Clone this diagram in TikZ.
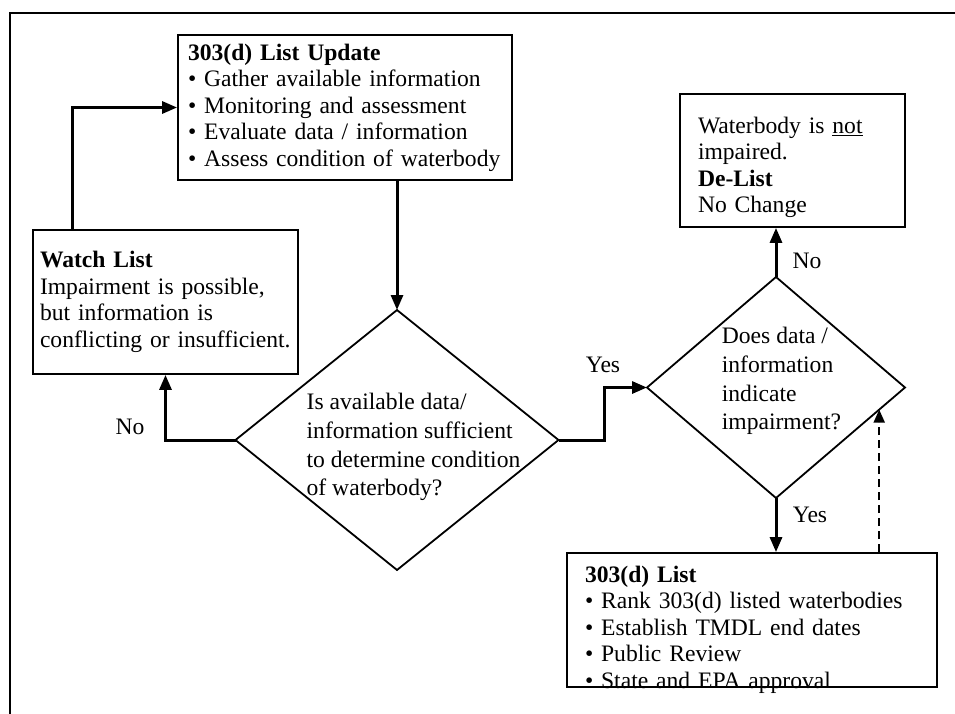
\documentclass[tikz,border=0pt]{standalone}
\usepackage{fontspec}
\setmainfont{Liberation Serif}
\usetikzlibrary{shapes.geometric,arrows.meta,calc}

\begin{document}
\begin{tikzpicture}[x=1pt,y=-1pt,
  every node/.style={font=\fontsize{23.6}{26.5}\selectfont},
  box/.style={draw,line width=1.8pt,align=left,inner ysep=0pt},
  decision/.style={draw,diamond,line width=1.8pt,inner sep=0pt,outer sep=0pt},
  question/.style={align=left,inner sep=0pt,font=\fontsize{23.6}{28.7}\selectfont},
  flow/.style={line width=3pt,-{Triangle[length=15pt,width=12pt]}},
  feedback/.style={line width=2pt,dash pattern=on 8pt off 5pt,-{Triangle[length=13pt,width=11pt]}}]

% Fix the size of the page
\useasboundingbox (0,0) rectangle (955,714);

% Draw the frame (top and left edge only)
\draw[line width=2.5pt] (955,13) -- (10,13) -- (10,714);

% Draw the boxes
\node[box,minimum width=334pt,minimum height=145pt,text width=314pt,inner xsep=10pt] (update) at (345,107.5)
  {\textbf{303(d) List Update}\\
   \textbullet\ Gather available information\\
   \textbullet\ Monitoring and assessment\\
   \textbullet\ Evaluate data / information\\
   \textbullet\ Assess condition of waterbody};

\node[box,minimum width=265pt,minimum height=144pt,text width=251pt,inner xsep=7pt] (watch) at (165.5,302)
  {\textbf{Watch List}\\
   Impairment is possible,\\
   but information is\\
   conflicting or insufficient.};

\node[box,minimum width=225pt,minimum height=133pt,text width=189pt,inner xsep=18pt,text depth=71pt] (delist) at (792.5,160.5)
  {Waterbody is \underline{not}\\
   impaired.\\
   \textbf{De-List}\\
   No Change};

\node[box,minimum width=370pt,minimum height=134pt,text width=334pt,inner xsep=18pt,text depth=92pt] (list) at (752,620)
  {\textbf{303(d) List}\\
   \textbullet\ Rank 303(d) listed waterbodies\\
   \textbullet\ Establish TMDL end dates\\
   \textbullet\ Public Review\\
   \textbullet\ State and EPA approval};

% Draw the decisions
\node[decision,minimum width=323pt,minimum height=260pt] (sufficient) at (397,440) {};
\node[question] (sufficienttext) at (413.5,447.3)
  {Is available data/\\
   information sufficient\\
   to determine condition\\
   of waterbody?};

\node[decision,minimum width=258pt,minimum height=221pt] (impaired) at (776,387.5) {};
\node[question] (impairedtext) at (781.5,381)
  {Does data /\\
   information\\
   indicate\\
   impairment?};

% Draw the arrows
\draw[flow] (sufficient.north |- update.south) -- (sufficient.north);
\draw[flow] (sufficient.west) -| (watch.south);
\draw[flow] ([xshift=40pt]watch.north west) |- (update.west);
\draw[flow] (sufficient.east) -- ++(46,0) |- (impaired.west);
\draw[flow] (impaired.north) -- (impaired.north |- delist.south);
\draw[flow] (impaired.south) -- (impaired.south |- list.north);

% Dashed arrow back to the decision
\coordinate (hit) at ($(impaired.east)!0.2!(impaired.south)$);
\draw[feedback] (hit |- list.north) -- (hit);

% Labels on the arrows
\node (nowatch) at (130,427) {No};
\node (yesimpaired) at (603,365) {Yes};
\node (nodelist) at (807,261) {No};
\node (yeslist) at (810,515) {Yes};

\end{tikzpicture}
\end{document}
